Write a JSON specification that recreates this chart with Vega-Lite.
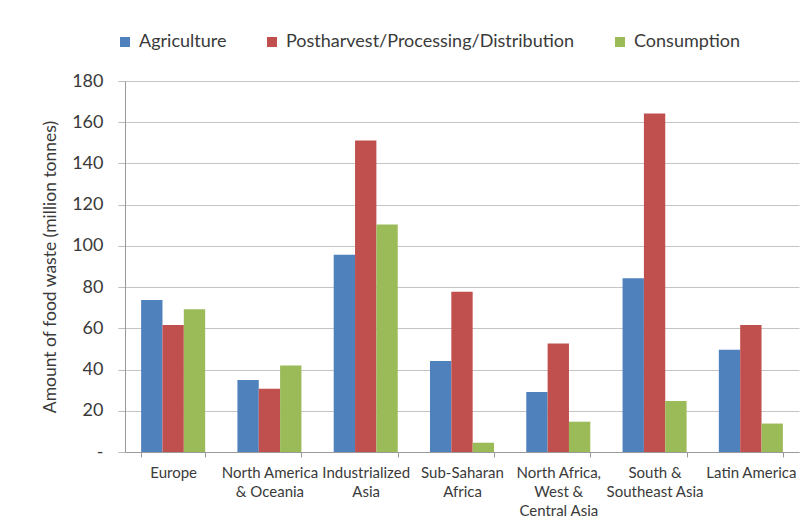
{
  "$schema": "https://vega.github.io/schema/vega-lite/v6.json",
  "width": 674,
  "height": 371,
  "autosize": {"type": "none"},
  "padding": {"left": 125, "top": 81, "right": 7, "bottom": 78},
  "background": "white",
  "config": {
    "font": "Lato",
    "view": {"stroke": null},
    "axis": {"labelColor": "#3a3a3a", "titleColor": "#3a3a3a", "labelFont": "Lato", "titleFont": "Lato"}
  },
  "data": {
    "values": [
      {"region": "Europe", "stage": "Agriculture", "waste": 73.7},
      {"region": "Europe", "stage": "Postharvest/Processing/Distribution", "waste": 61.6},
      {"region": "Europe", "stage": "Consumption", "waste": 69.2},
      {"region": "North America & Oceania", "stage": "Agriculture", "waste": 34.9},
      {"region": "North America & Oceania", "stage": "Postharvest/Processing/Distribution", "waste": 30.7},
      {"region": "North America & Oceania", "stage": "Consumption", "waste": 42.0},
      {"region": "Industrialized Asia", "stage": "Agriculture", "waste": 95.7},
      {"region": "Industrialized Asia", "stage": "Postharvest/Processing/Distribution", "waste": 151.1},
      {"region": "Industrialized Asia", "stage": "Consumption", "waste": 110.4},
      {"region": "Sub-Saharan Africa", "stage": "Agriculture", "waste": 44.1},
      {"region": "Sub-Saharan Africa", "stage": "Postharvest/Processing/Distribution", "waste": 77.7},
      {"region": "Sub-Saharan Africa", "stage": "Consumption", "waste": 4.5},
      {"region": "North Africa, West & Central Asia", "stage": "Agriculture", "waste": 29.1},
      {"region": "North Africa, West & Central Asia", "stage": "Postharvest/Processing/Distribution", "waste": 52.7},
      {"region": "North Africa, West & Central Asia", "stage": "Consumption", "waste": 14.7},
      {"region": "South & Southeast Asia", "stage": "Agriculture", "waste": 84.3},
      {"region": "South & Southeast Asia", "stage": "Postharvest/Processing/Distribution", "waste": 164.2},
      {"region": "South & Southeast Asia", "stage": "Consumption", "waste": 24.7},
      {"region": "Latin America", "stage": "Agriculture", "waste": 49.6},
      {"region": "Latin America", "stage": "Postharvest/Processing/Distribution", "waste": 61.6},
      {"region": "Latin America", "stage": "Consumption", "waste": 13.8}
    ]
  },
  "mark": {"type": "bar"},
  "encoding": {
    "x": {
      "field": "region",
      "type": "nominal",
      "sort": null,
      "title": null,
      "scale": {"paddingInner": 0.335, "paddingOuter": 0.1675},
      "axis": {
        "labelAngle": 0,
        "labelFontSize": 15,
        "labelPadding": 8,
        "labelLineHeight": 19,
        "labelBaseline": "top",
        "labelLimit": 0,
        "tickBand": "extent",
        "tickSize": 5,
        "tickColor": "#999999",
        "domainColor": "#999999",
        "labelExpr": "datum.value == 'North America & Oceania' ? ['North America', '& Oceania'] : datum.value == 'Industrialized Asia' ? ['Industrialized', 'Asia'] : datum.value == 'Sub-Saharan Africa' ? ['Sub-Saharan', 'Africa'] : datum.value == 'North Africa, West & Central Asia' ? ['North Africa,', 'West &', 'Central Asia'] : datum.value == 'South & Southeast Asia' ? ['South &', 'Southeast Asia'] : datum.label"
      }
    },
    "xOffset": {"field": "stage", "type": "nominal", "sort": null, "scale": {"paddingInner": 0, "paddingOuter": 0}},
    "y": {
      "field": "waste",
      "type": "quantitative",
      "title": "Amount of food waste (million  tonnes)",
      "scale": {"domain": [0, 180]},
      "axis": {
        "values": [0, 20, 40, 60, 80, 100, 120, 140, 160, 180],
        "labelExpr": "datum.value == 0 ? '-' : datum.label",
        "labelFontSize": 18,
        "labelPadding": 15,
        "tickSize": 7,
        "tickColor": "#bbbbbb",
        "gridColor": "#c4c4c4",
        "domainColor": "#999999",
        "titleFontSize": 17.5,
        "titleFontWeight": "normal",
        "titlePadding": 12
      }
    },
    "color": {
      "field": "stage",
      "type": "nominal",
      "sort": null,
      "scale": {
        "domain": ["Agriculture", "Postharvest/Processing/Distribution", "Consumption"],
        "range": ["#4F81BD", "#C0504D", "#9BBB59"]
      },
      "legend": {
        "title": null,
        "orient": "none",
        "direction": "horizontal",
        "legendX": -9,
        "legendY": -48,
        "symbolType": "square",
        "symbolSize": 100,
        "symbolStrokeWidth": 0,
        "labelFontSize": 18,
        "labelColor": "#3a3a3a",
        "labelLimit": 0,
        "labelOffset": 5,
        "columnPadding": 36,
        "padding": 0
      }
    }
  }
}
